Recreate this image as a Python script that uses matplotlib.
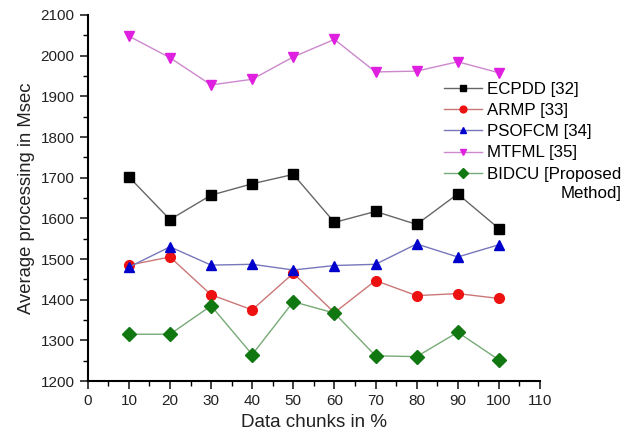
import matplotlib
matplotlib.use('Agg')
import matplotlib.pyplot as plt
from matplotlib.ticker import MultipleLocator

plt.rcParams['font.family'] = ['Liberation Sans', 'DejaVu Sans']

# Dados
chunks = [10, 20, 30, 40, 50, 60, 70, 80, 90, 100]
ecpdd = [1702, 1597, 1657, 1685, 1708, 1590, 1617, 1585, 1660, 1575]
armp = [1485, 1505, 1412, 1375, 1465, 1368, 1447, 1410, 1415, 1403]
psofcm = [1480, 1530, 1485, 1487, 1473, 1484, 1487, 1537, 1505, 1535]
mtfml = [2048, 1995, 1928, 1942, 1997, 2040, 1960, 1962, 1985, 1958]
bidcu = [1315, 1315, 1385, 1265, 1395, 1367, 1262, 1260, 1320, 1252]

series = [
    (ecpdd, 'ECPDD [32]', 's', 'black', '#666666'),
    (armp, 'ARMP [33]', 'o', '#ee1111', '#cc7777'),
    (psofcm, 'PSOFCM [34]', '^', '#0000cc', '#7777bb'),
    (mtfml, 'MTFML [35]', 'v', '#e020e0', '#cc88cc'),
    (bidcu, 'BIDCU [Proposed', 'D', '#117711', '#77aa77'),
]

fig = plt.figure(figsize=(6.36, 4.41), dpi=100)
ax = fig.add_axes([0.138, 0.136, 0.711, 0.830])

for vals, nome, marc, cor, cor_linha in series:
    ax.plot(chunks, vals, color=cor_linha, linewidth=1.0, marker=marc,
            markerfacecolor=cor, markeredgecolor=cor, markersize=7, label=nome)

ax.set_xlim(0, 110)
ax.set_ylim(1200, 2100)
ax.xaxis.set_major_locator(MultipleLocator(10))
ax.xaxis.set_minor_locator(MultipleLocator(5))
ax.yaxis.set_major_locator(MultipleLocator(100))
ax.yaxis.set_minor_locator(MultipleLocator(50))
ax.tick_params(which='major', length=6, width=1.2, labelsize=11, colors='#222222')
ax.tick_params(which='minor', length=3.5, width=1.0)

for lado in ['top', 'right']:
    ax.spines[lado].set_visible(False)
for lado in ['left', 'bottom']:
    ax.spines[lado].set_linewidth(1.5)

ax.set_xlabel('Data chunks in %', fontsize=13.5, color='#222222')
ax.set_ylabel('Average processing in Msec', fontsize=13.3, color='#222222')

leg = ax.legend(loc='upper left', bbox_to_anchor=(0.773, 0.835), frameon=False,
                fontsize=12.2, handlelength=2.25, handletextpad=0.3,
                labelspacing=0.36, borderaxespad=0, markerscale=0.7)

# segunda linha do rótulo do método proposto, alinhada à direita
fig.canvas.draw()
bb = leg.get_texts()[-1].get_window_extent()
inv = fig.transFigure.inverted()
x1, y0 = inv.transform((bb.x1, bb.y0 - 4))
fig.text(x1, y0, 'Method]', fontsize=12.2, ha='right', va='top')

plt.savefig('out.png', dpi=100)
